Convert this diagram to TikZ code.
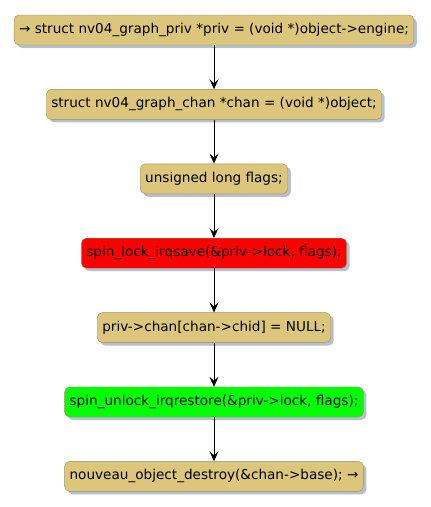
\documentclass[tikz,border=0pt]{standalone}
\usepackage{fontspec}
\setmainfont{DejaVu Sans}
\usetikzlibrary{positioning,shadows,arrows.meta}
\definecolor{stmtfill}{HTML}{DBC67C}
\definecolor{stmtline}{HTML}{A08E5C}
\definecolor{shadowgray}{HTML}{B6BED2}
\tikzset{
  stmt/.style={draw=stmtline, fill=stmtfill, rounded corners=5pt,
    minimum height=30pt, inner xsep=5pt, inner ysep=0pt,
    font=\fontsize{13.6}{15}\selectfont,
    drop shadow={shadow xshift=3pt, shadow yshift=-3pt, fill=shadowgray, opacity=1}},
  lockstmt/.style={stmt, fill=red},
  unlockstmt/.style={stmt, fill=green},
  flow/.style={-{Stealth[length=10pt, width=9pt, inset=4pt]}, line width=0.8pt}
}
\begin{document}
\begin{tikzpicture}[x=1pt, y=1pt, node distance=44pt]
  \useasboundingbox (0,0) rectangle (431,-507);
  % --- statements ------------------------------------------------
  \node[stmt] (priv) at (214,-30)
    {→ struct nv04\_graph\_priv *priv = (void *)object->engine;};
  \node[stmt, below=of priv] (chan)
    {struct nv04\_graph\_chan *chan = (void *)object;};
  \node[stmt, below=of chan] (flags) {unsigned long flags;};
  \node[lockstmt, below=of flags] (lock)
    {spin\_lock\_irqsave(\&priv->lock, flags);};
  \node[stmt, below=of lock] (clear)
    {priv->chan[chan->chid] = NULL;};
  \node[unlockstmt, below=of clear] (unlock)
    {spin\_unlock\_irqrestore(\&priv->lock, flags);};
  \node[stmt, below=of unlock] (destroy)
    {nouveau\_object\_destroy(\&chan->base); →};
  % --- flow ------------------------------------------------------
  \draw[flow] (priv) -- (chan);
  \draw[flow] (chan) -- (flags);
  \draw[flow] (flags) -- (lock);
  \draw[flow] (lock) -- (clear);
  \draw[flow] (clear) -- (unlock);
  \draw[flow] (unlock) -- (destroy);
\end{tikzpicture}
\end{document}
